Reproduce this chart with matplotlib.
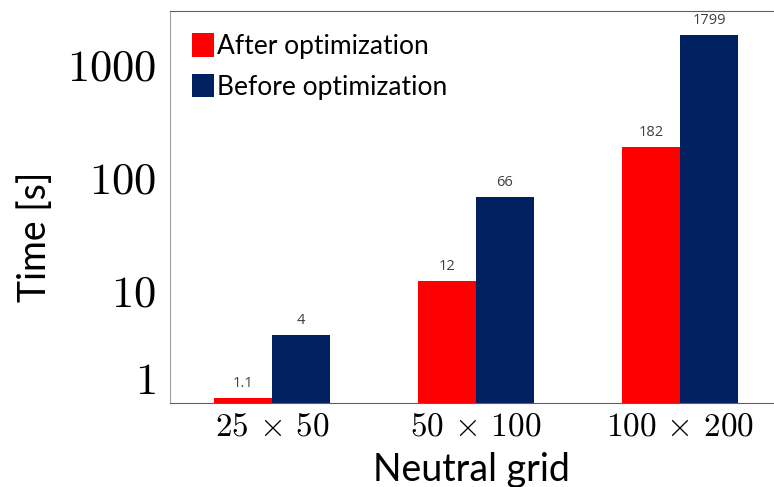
import numpy as np
import matplotlib
matplotlib.use("Agg")
import matplotlib.pyplot as plt

plt.rcParams['mathtext.fontset'] = 'cm'

# data
grids = [r'$25\,\times\,50$', r'$50\,\times\,100$', r'$100\,\times\,200$']
after = [1.1, 12, 182]
before = [4, 66, 1799]
after_labels = ['1.1', '12', '182']
before_labels = ['4', '66', '1799']
yticks = [1, 10, 100, 1000]

red = '#FF0000'
navy = '#002060'
label_font = 'Lato'

fig = plt.figure(figsize=(7.74, 4.87), dpi=100)
ax = fig.add_axes([0.2196, 0.1733, 0.7791, 0.8041])

x = np.arange(len(grids))
w = 0.284
b1 = ax.bar(x - w/2, after, w, color=red, label='After optimization')
b2 = ax.bar(x + w/2, before, w, color=navy, label='Before optimization')

ax.set_yscale('log')
ax.set_ylim(1, 2920)
ax.set_xlim(-0.5, 2.456)

for bars, labs in ((b1, after_labels), (b2, before_labels)):
    for rect, t in zip(bars, labs):
        ax.annotate(t, (rect.get_x() + rect.get_width()/2, rect.get_height()),
                    xytext=(0, 5), textcoords='offset points',
                    ha='center', va='bottom', fontsize=10.5,
                    color='#404040', family='Open Sans')

ax.set_xticks(x)
ax.set_xticklabels(grids, fontsize=24)
ax.set_yticks(yticks)
ax.set_yticklabels([r'$%d$' % v for v in yticks], fontsize=32)
ax.yaxis.set_minor_locator(matplotlib.ticker.NullLocator())
ax.tick_params(axis='y', length=0, pad=10)
ax.tick_params(axis='x', length=0, pad=5)
# lift the "1" label so it sits above the bottom edge
ax.get_yticklabels()[0].set_va('bottom')

ax.spines['right'].set_visible(False)
ax.spines['top'].set_color('#606060')
ax.spines['bottom'].set_color('#606060')
ax.spines['left'].set_color('#a0a0a0')

ax.set_xlabel('Neutral grid', fontsize=27, family=label_font, labelpad=7)
ax.set_ylabel('Time [s]', fontsize=27, family=label_font)
ax.yaxis.set_label_coords(-0.194, 0.423)

ax.legend(loc='upper left', bbox_to_anchor=(0.0, 1.0), frameon=False,
          prop={'family': label_font, 'size': 19}, handlelength=0.8,
          handleheight=1.0, handletextpad=0.15, labelspacing=0.55,
          borderaxespad=0.45)

fig.savefig('out.png', dpi=100)
